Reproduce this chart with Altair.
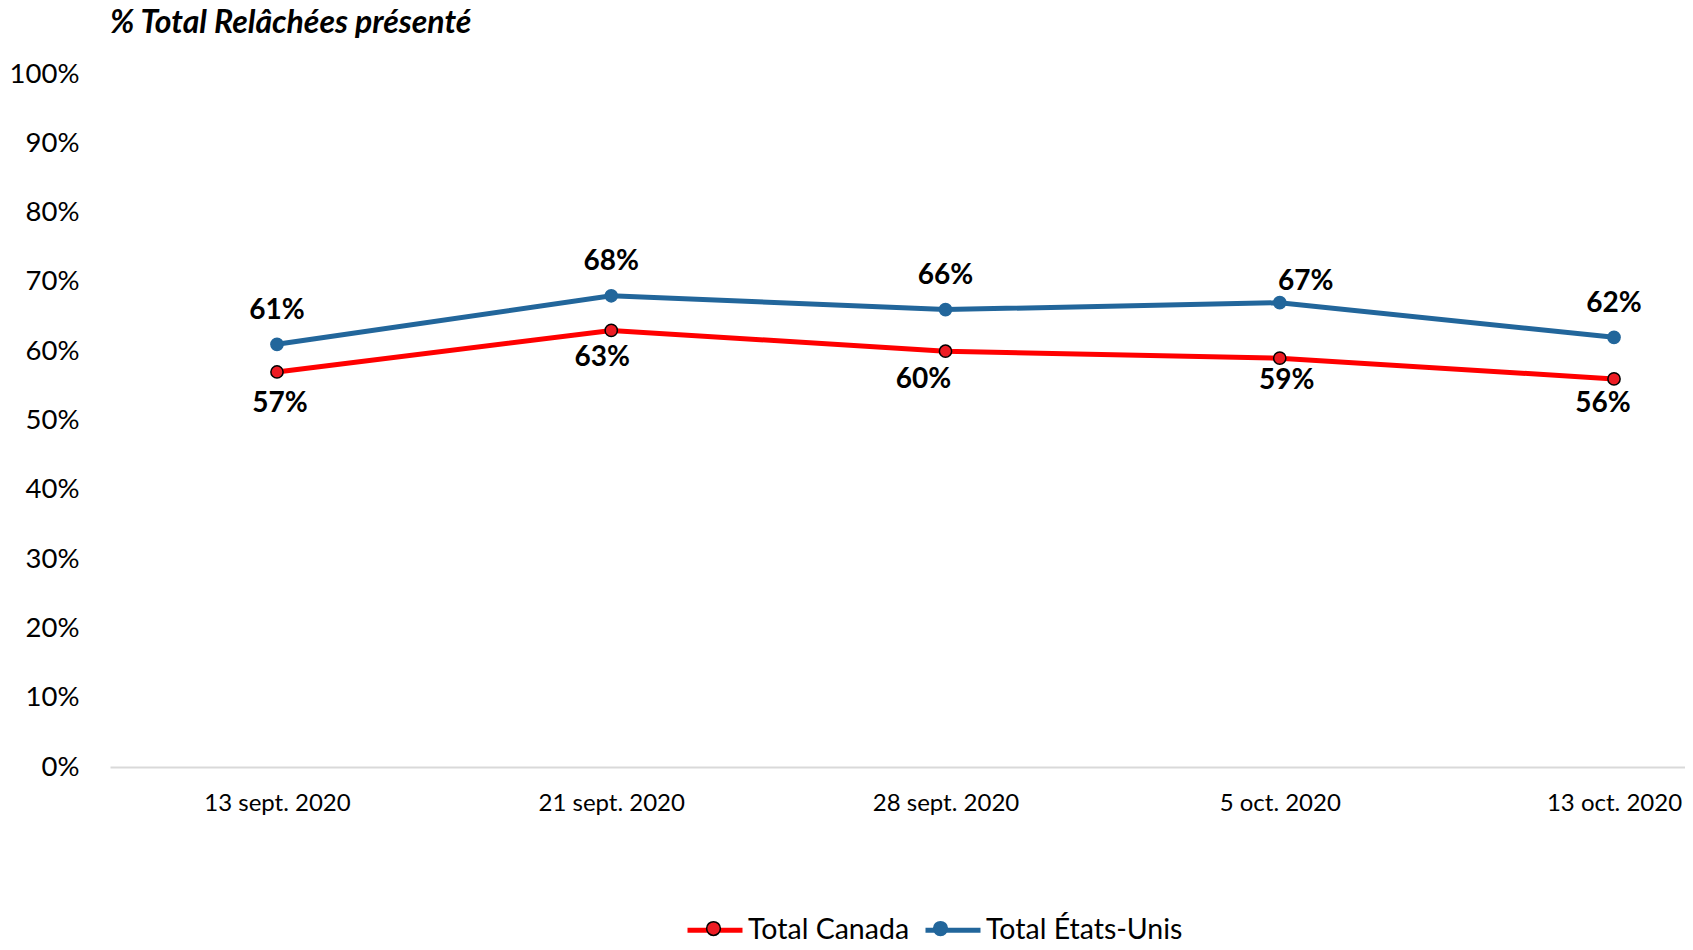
import json
import altair as alt
import pandas as pd

# ---- data ----
dates = ["13 sept. 2020", "21 sept. 2020", "28 sept. 2020", "5 oct. 2020", "13 oct. 2020"]
canada = [0.57, 0.63, 0.60, 0.59, 0.56]
usa = [0.61, 0.68, 0.66, 0.67, 0.62]
series_names = ["Total Canada", "Total États-Unis"]
y_ticks = [0.0, 0.1, 0.2, 0.3, 0.4, 0.5, 0.6, 0.7, 0.8, 0.9, 1.0]
title_text = "% Total Relâchées présenté"

rows = []
for s, vals in zip(series_names, [canada, usa]):
    for i, (d, v) in enumerate(zip(dates, vals)):
        rows.append({"idx": i, "date": d, "series": s, "series_pt": s, "value": v})
df = pd.DataFrame(rows)

# ---- styling ----
FONT = "Lato"
RED_LINE = "#ff0000"
RED_FILL = "#ed1c24"
BLUE = "#22669b"
line_colors = [RED_LINE, BLUE]
fill_colors = [RED_FILL, BLUE]
stroke_colors = ["#000000", BLUE]

LEG_SIZE = 3025  # 55 px symbol box
LEG_X = 575
LEG_Y = 826
LEG_FONT = 28.5
LEG_OFFSET = 3
LEG_COLPAD = 5
line_path = "M-1,0L1,0"
r = 0.25
circle_path = f"M{r},0A{r},{r},0,1,1,-{r},0A{r},{r},0,1,1,{r},0Z"

label_expr = json.dumps(dates, ensure_ascii=False) + "[datum.value]"

x_enc = alt.X(
    "idx:Q",
    scale=alt.Scale(domain=[-0.4996, 4.2124], nice=False, zero=False),
    axis=alt.Axis(
        values=[0, 1, 2, 3, 4],
        labelExpr=label_expr,
        title=None,
        grid=False,
        ticks=False,
        domain=True,
        domainColor="#d9d9d9",
        domainWidth=2,
        labelFont=FONT,
        labelFontSize=24,
        labelColor="#000000",
        labelPadding=24,
    ),
)
y_enc = alt.Y(
    "value:Q",
    scale=alt.Scale(domain=[0, 1], nice=False),
    axis=alt.Axis(
        values=y_ticks,
        format=".0%",
        title=None,
        grid=False,
        ticks=False,
        domain=False,
        labelFont=FONT,
        labelFontSize=27.5,
        labelColor="#000000",
        labelPadding=31,
    ),
)

base = alt.Chart(df)

lines = base.mark_line(strokeWidth=5).encode(
    x=x_enc,
    y=y_enc,
    color=alt.Color(
        "series:N",
        scale=alt.Scale(domain=series_names, range=line_colors),
        legend=alt.Legend(
            title=None,
            orient="none",
            direction="horizontal",
            legendX=LEG_X,
            legendY=LEG_Y,
            symbolType=line_path,
            symbolSize=LEG_SIZE,
            symbolStrokeWidth=5,
            labelFont=FONT,
            labelFontSize=LEG_FONT,
            labelColor="#000000",
            labelLimit=500,
            labelOffset=LEG_OFFSET,
            columnPadding=LEG_COLPAD,
            zindex=0,
        ),
    ),
    detail="series:N",
)

# fill/stroke scales use the data-derived domain (sorted: Canada first) so that
# their legend stays separate from the line legend
points = base.mark_point(filled=True, opacity=1, size=150, strokeWidth=1.5).encode(
    x="idx:Q",
    y="value:Q",
    fill=alt.Fill(
        "series_pt:N",
        scale=alt.Scale(range=fill_colors),
        legend=alt.Legend(
            title=None,
            orient="none",
            direction="horizontal",
            legendX=LEG_X,
            legendY=LEG_Y,
            symbolType=circle_path,
            symbolSize=LEG_SIZE,
            symbolStrokeWidth=1.5,
            symbolOpacity=1,
            labelFont=FONT,
            labelFontSize=LEG_FONT,
            labelOpacity=0,
            labelLimit=500,
            labelOffset=LEG_OFFSET,
            columnPadding=LEG_COLPAD,
            zindex=1,
        ),
    ),
    stroke=alt.Stroke(
        "series_pt:N",
        scale=alt.Scale(range=stroke_colors),
    ),
)

# label placement (Excel-like nudges)
label_dy = {"Total Canada": [32, 28, 29, 23, 25], "Total États-Unis": [-33, -34, -34, -21, -33]}
label_dx = {"Total Canada": [3, -9, -22, 7, -11], "Total États-Unis": [0, 0, 0, 26, 0]}

label_layers = []
for s in series_names:
    for i in range(len(dates)):
        lyr = base.transform_filter(
            (alt.datum.series == s) & (alt.datum.idx == i)
        ).mark_text(
            font=FONT, fontSize=28, fontWeight="bold", color="#000000",
            dx=label_dx[s][i], dy=label_dy[s][i], baseline="middle", align="center",
        ).encode(
            x="idx:Q",
            y="value:Q",
            text=alt.Text("value:Q", format=".0%"),
        )
        label_layers.append(lyr)

chart = alt.layer(lines, points, *label_layers).properties(
    width=1575,
    height=693,
    background="white",
    autosize=alt.AutoSizeParams(type="none"),
    padding={"left": 102, "top": 66, "right": 0, "bottom": 175},
    title=alt.TitleParams(
        text=title_text,
        anchor="start",
        frame="group",
        font=FONT,
        fontSize=32,
        fontStyle="italic",
        fontWeight="bold",
        color="#000000",
        offset=20,
    ),
).configure_view(stroke="transparent", strokeWidth=0)

chart.save("out.html", embed_options={"renderer": "svg", "actions": False})
